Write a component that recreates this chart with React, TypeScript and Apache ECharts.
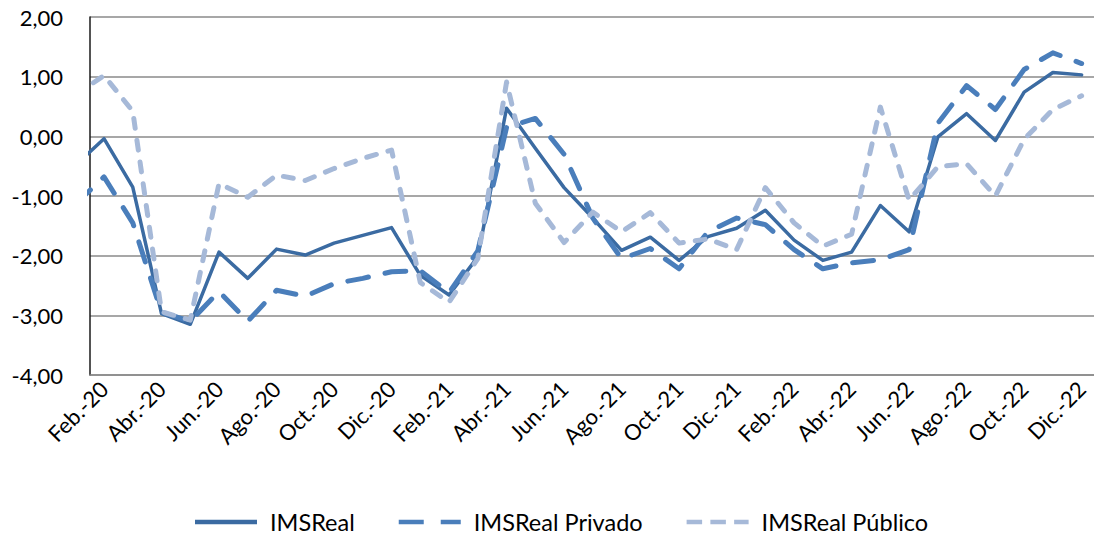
import React, { useEffect, useRef } from "react";
import * as echarts from "echarts";

const months = [
  "Ene.-20", "Feb.-20", "Mar.-20", "Abr.-20", "May.-20", "Jun.-20", "Jul.-20", "Ago.-20", "Sep.-20", "Oct.-20", "Nov.-20", "Dic.-20",
  "Ene.-21", "Feb.-21", "Mar.-21", "Abr.-21", "May.-21", "Jun.-21", "Jul.-21", "Ago.-21", "Sep.-21", "Oct.-21", "Nov.-21", "Dic.-21",
  "Ene.-22", "Feb.-22", "Mar.-22", "Abr.-22", "May.-22", "Jun.-22", "Jul.-22", "Ago.-22", "Sep.-22", "Oct.-22", "Nov.-22", "Dic.-22",
];

const imsReal = [
  -0.49, -0.04, -0.85, -2.97, -3.15, -1.94, -2.38, -1.89, -1.99, -1.79, -1.66, -1.53,
  -2.33, -2.66, -2.02, 0.47, -0.2, -0.86, -1.37, -1.91, -1.69, -2.08, -1.68, -1.54,
  -1.24, -1.74, -2.08, -1.94, -1.16, -1.6, -0.01, 0.38, -0.07, 0.74, 1.07, 1.03,
];

const imsPrivado = [
  -1.14, -0.68, -1.45, -2.95, -3.1, -2.6, -3.1, -2.58, -2.68, -2.47, -2.38, -2.27,
  -2.25, -2.62, -1.92, 0.15, 0.3, -0.3, -1.37, -2.05, -1.88, -2.22, -1.6, -1.37,
  -1.48, -1.9, -2.22, -2.12, -2.07, -1.9, 0.22, 0.85, 0.45, 1.12, 1.4, 1.22,
];

const imsPublico = [
  0.69, 1.02, 0.42, -2.94, -3.08, -0.79, -1.02, -0.65, -0.74, -0.54, -0.37, -0.23,
  -2.45, -2.78, -2.05, 0.91, -1.12, -1.78, -1.27, -1.6, -1.28, -1.79, -1.72, -1.9,
  -0.86, -1.45, -1.84, -1.64, 0.49, -1.07, -0.51, -0.46, -1.0, -0.05, 0.45, 0.68,
];

const seriesNames = ["IMSReal", "IMSReal Privado", "IMSReal Público"];
const labelIndices = months.map((_, i) => i).filter((i) => i % 2 === 1);

const Y_MIN = -4;
const Y_MAX = 2;
const Y_STEP = 1;

const FONT = "Lato";
const COLORS = ["#3B6BA2", "#4A7EBB", "#A6B9D8"];

// legend icons (line samples)
const ICONS = [
  "path://M0,0H62V4.5H0Z",
  "path://M0,0H25V4.5H0Z M42,0H62V4.5H42Z",
  "path://M0,0H15V4.5H0Z M23,0H38V4.5H23Z M46,0H60V4.5H46Z",
];

export default function App() {
  const ref = useRef<HTMLDivElement>(null);

  useEffect(() => {
    if (!ref.current) return;
    const chart = echarts.init(ref.current, null, { renderer: "svg" });
    const toPairs = (vals: number[]) => vals.map((v, i) => [i, v]);

    chart.setOption({
      animation: false,
      backgroundColor: "#ffffff",
      grid: { left: 90, right: 0, top: 17, bottom: 162, containLabel: false },
      xAxis: {
        type: "value",
        min: 0.513,
        max: 35.43,
        axisLine: { show: true, onZero: false, lineStyle: { color: "#8a8a8a", width: 1.5 } },
        axisTick: { show: false },
        splitLine: { show: false },
        axisLabel: {
          customValues: labelIndices,
          formatter: (v: number) => months[Math.round(v)] ?? "",
          rotate: 45,
          margin: 10,
          color: "#000",
          fontFamily: FONT,
          fontSize: 22,
        },
      },
      yAxis: {
        type: "value",
        min: Y_MIN,
        max: Y_MAX,
        interval: Y_STEP,
        axisLine: { show: true, lineStyle: { color: "#1a1a1a", width: 1.5 } },
        axisTick: { show: false },
        splitLine: { show: true, lineStyle: { color: "#8a8a8a", width: 1.5 } },
        axisLabel: {
          formatter: (v: number) => v.toFixed(2).replace(".", ","),
          margin: 27,
          color: "#000",
          fontFamily: FONT,
          fontSize: 22,
        },
      },
      legend: {
        left: 190,
        top: 504,
        itemWidth: 62,
        itemHeight: 4.5,
        itemGap: 44,
        symbolKeepAspect: false,
        textStyle: { color: "#000", fontFamily: FONT, fontSize: 23.5, lineHeight: 26, padding: [0, 0, 0, 8] },
        data: seriesNames.map((n, i) => ({
          name: n,
          icon: ICONS[i],
          itemStyle: { color: COLORS[i], borderWidth: 0 },
        })),
      },
      series: [
        {
          name: seriesNames[0],
          type: "line",
          data: toPairs(imsReal),
          symbol: "none",
          lineStyle: { color: COLORS[0], width: 3.5, cap: "round", join: "round" },
          itemStyle: { color: COLORS[0] },
        },
        {
          name: seriesNames[1],
          type: "line",
          data: toPairs(imsPrivado),
          symbol: "none",
          lineStyle: { color: COLORS[1], width: 5, type: [21, 17], cap: "round", join: "round" },
          itemStyle: { color: COLORS[1] },
        },
        {
          name: seriesNames[2],
          type: "line",
          data: toPairs(imsPublico),
          symbol: "none",
          lineStyle: { color: COLORS[2], width: 5, type: [10, 12], cap: "round", join: "round" },
          itemStyle: { color: COLORS[2] },
        },
      ],
    });

    return () => chart.dispose();
  }, []);

  return (
    <div
      ref={ref}
      style={{ position: "fixed", left: 0, top: 0, width: 1094, height: 537, background: "#fff" }}
    />
  );
}
